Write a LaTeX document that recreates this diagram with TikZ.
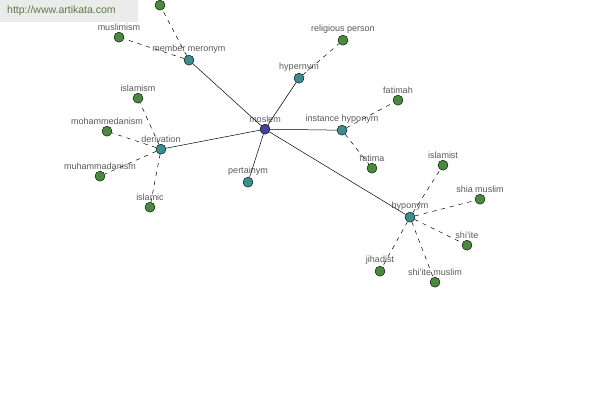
\documentclass[tikz,border=0pt]{standalone}
\usepackage{fontspec}
\setmainfont{Liberation Sans}
\usetikzlibrary{positioning}
\definecolor{artHead}{HTML}{EBEBEB}
\definecolor{artHeadText}{HTML}{5E7A3E}
\definecolor{artText}{HTML}{5A5A5A}
\definecolor{artRoot}{HTML}{42429E}
\definecolor{artRel}{HTML}{3C8E8E}
\definecolor{artLeaf}{HTML}{4A8A3C}

\begin{document}
\begin{tikzpicture}[x=1pt,y=-1pt,line cap=round,line join=round]
\path[fill=white] (0,0) rectangle (600,400);
\path[fill=artHead] (0,0) rectangle (138,22);
\node[anchor=west,text=artHeadText,font=\fontsize{10.5}{12}\selectfont,inner sep=0pt] (site) at (7,11) {http://www.artikata.com};
\tikzset{dot/.style={circle,draw=black,line width=0.4pt,inner sep=0pt,minimum size=10pt,label distance=0.5pt},
  wordlabel/.style={text=artText,font=\fontsize{9}{10}\selectfont,inner sep=1pt},
  root/.style={dot,fill=artRoot},rel/.style={dot,fill=artRel},leaf/.style={dot,fill=artLeaf},
  solidlink/.style={draw=black,line width=0.5pt},dashlink/.style={draw=black,line width=0.5pt,dashed,dash pattern=on 4pt off 5pt}}
% center word
\node[root,label={[wordlabel]above:moslem}] (moslem) at (265,129) {};
% relation nodes
\node[rel,label={[wordlabel]above:member meronym}] (meronym) at (189,60) {};
\node[rel,label={[wordlabel]above:hypernym}] (hypernym) at (299,78) {};
\node[rel,label={[wordlabel]above:instance hyponym}] (insthypo) at (342,130) {};
\node[rel,label={[wordlabel]above:derivation}] (derivation) at (161,149) {};
\node[rel,label={[wordlabel]above:pertainym}] (pertainym) at (248,182) {};
\node[rel,label={[wordlabel]above:hyponym}] (hyponym) at (410,217) {};
% words
\node[leaf] (topword) at (160,5) {};
\node[leaf,label={[wordlabel]above:muslimism}] (muslimism) at (119,37) {};
\node[leaf,label={[wordlabel]above:religious person}] (religious) at (343,40) {};
\node[leaf,label={[wordlabel]above:fatimah}] (fatimah) at (398,100) {};
\node[leaf,label={[wordlabel]above:fatima}] (fatima) at (372,168) {};
\node[leaf,label={[wordlabel]above:islamism}] (islamism) at (138,98) {};
\node[leaf,label={[wordlabel]above:mohammedanism}] (mohammedanism) at (107,131) {};
\node[leaf,label={[wordlabel]above:muhammadanism}] (muhammadanism) at (100,176) {};
\node[leaf,label={[wordlabel]above:islamic}] (islamic) at (150,207) {};
\node[leaf,label={[wordlabel]above:islamist}] (islamist) at (443,165) {};
\node[leaf,label={[wordlabel]above:shia muslim}] (shiamuslim) at (480,199) {};
\node[leaf,label={[wordlabel]above:shi'ite}] (shiite) at (467,245) {};
\node[leaf,label={[wordlabel]above:shi'ite muslim}] (shiitemuslim) at (435,282) {};
\node[leaf,label={[wordlabel]above:jihadist}] (jihadist) at (380,271) {};
% links
\foreach \r in {meronym,hypernym,insthypo,derivation,pertainym,hyponym} \draw[solidlink] (moslem) -- (\r);
\foreach \w in {topword,muslimism} \draw[dashlink] (meronym) -- (\w);
\draw[dashlink] (hypernym) -- (religious);
\foreach \w in {fatimah,fatima} \draw[dashlink] (insthypo) -- (\w);
\foreach \w in {islamism,mohammedanism,muhammadanism,islamic} \draw[dashlink] (derivation) -- (\w);
\foreach \w in {islamist,shiamuslim,shiite,shiitemuslim,jihadist} \draw[dashlink] (hyponym) -- (\w);
\end{tikzpicture}
\end{document}
